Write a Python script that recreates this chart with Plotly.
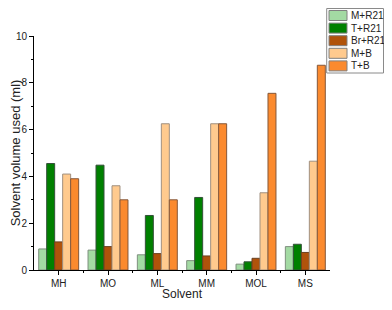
import plotly.graph_objects as go

categories = ["MH", "MO", "ML", "MM", "MOL", "MS"]
series_names = ["M+R21", "T+R21", "Br+R21", "M+B", "T+B"]
m_r21 = [0.9, 0.85, 0.65, 0.4, 0.25, 1.0]
t_r21 = [4.55, 4.48, 2.33, 3.1, 0.35, 1.1]
br_r21 = [1.2, 1.0, 0.7, 0.6, 0.5, 0.75]
m_b = [4.1, 3.6, 6.25, 6.25, 3.3, 4.65]
t_b = [3.9, 3.0, 3.0, 6.25, 7.55, 8.75]
y_ticks = [0, 2, 4, 6, 8, 10]

series_values = [m_r21, t_r21, br_r21, m_b, t_b]
colors = ["#a3daa3", "#008000", "#b0530b", "#ffca8e", "#fb8a2e"]
line_colors = ["#7f8f7f", "#35503a", "#6a4020", "#a09080", "#85583a"]

# figure geometry: page has an 8px body margin, keep figure inside the viewport
W, H = 376, 294
ML_, MR_, MT_, MB_ = 26, 54, 28, 32
PW, PH = W - ML_ - MR_, H - MT_ - MB_


def px(fx):
    return (fx - ML_) / PW


def py(fy):
    return (H - MB_ - fy) / PH


xpos = list(range(len(categories)))

fig = go.Figure()
for name, vals, c, lc in zip(series_names, series_values, colors, line_colors):
    fig.add_trace(go.Bar(x=xpos, y=vals, name=name, showlegend=False,
                         marker=dict(color=c, line=dict(color=lc, width=1))))

# compact legend box, like the reference
shapes = [dict(type="rect", xref="paper", yref="paper",
               x0=px(318.7), x1=px(375.5), y0=py(65.0), y1=py(0.5),
               line=dict(color="#8a8a8a", width=1), fillcolor="white", layer="above")]
annotations = []
for i, (name, c) in enumerate(zip(series_names, colors)):
    top = 2.5 + 12.6 * i
    shapes.append(dict(type="rect", xref="paper", yref="paper",
                       x0=px(321), x1=px(339), y0=py(top + 10), y1=py(top),
                       line=dict(color="#808080", width=1), fillcolor=c, layer="above"))
    annotations.append(dict(text=name, xref="paper", yref="paper",
                            x=px(340.5), y=py(top + 5), xanchor="left", yanchor="middle",
                            showarrow=False, font=dict(size=10, color="#222")))

annotations.append(dict(text="Solvent", xref="paper", yref="paper",
                        x=0.5, y=py(293.5), xanchor="center", yanchor="bottom",
                        showarrow=False, borderpad=0,
                        font=dict(size=12, color="#222")))

fig.update_layout(
    barmode="group", bargap=0.19, bargroupgap=0,
    width=W, height=H,
    margin=dict(l=ML_, r=MR_, t=MT_, b=MB_, autoexpand=False),
    paper_bgcolor="white", plot_bgcolor="white",
    font=dict(family="Liberation Sans, Arial", size=10, color="#222"),
    showlegend=False,
    shapes=shapes, annotations=annotations,
)
fig.update_xaxes(
    range=[-0.5, 5.5], tickvals=xpos, ticktext=categories,
    showline=True, linecolor="black", linewidth=1,
    ticks="outside", ticklen=4, tickcolor="black",
    minor=dict(tickvals=[i + 0.5 for i in xpos[:-1]], ticks="outside", ticklen=2, tickcolor="black"),
    showgrid=False, zeroline=False, tickfont=dict(size=10),
)
fig.update_yaxes(
    range=[0, 10], tickvals=y_ticks,
    showline=True, linecolor="black", linewidth=1,
    ticks="outside", ticklen=4, tickcolor="black",
    minor=dict(dtick=1, ticks="outside", ticklen=2, tickcolor="black"),
    showgrid=False, zeroline=False, tickfont=dict(size=10),
    title=dict(text="Solvent volume used (ml)", font=dict(size=13), standoff=1),
)
fig.write_html("out.html")
